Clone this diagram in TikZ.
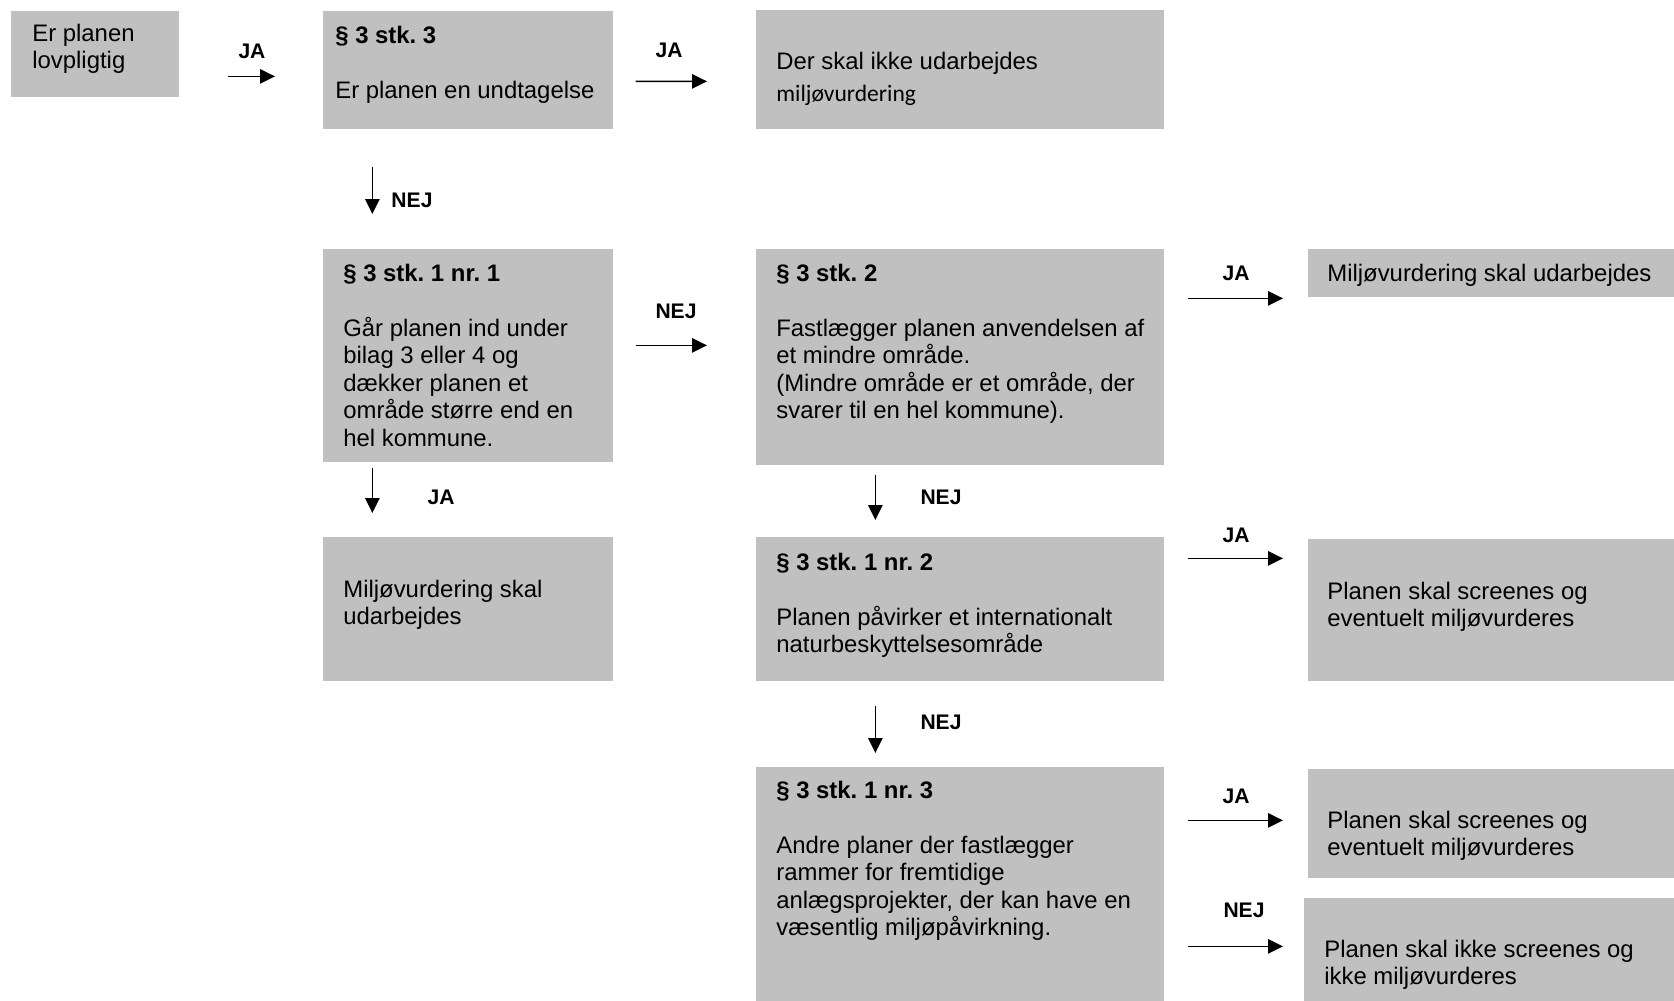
\documentclass[tikz,border=0pt]{standalone}
\usepackage{fontspec}
\setmainfont{Liberation Sans}
\newfontfamily\carl{Carlito}
\usepackage{tikz}
\usetikzlibrary{arrows.meta,calc}
\frenchspacing
\definecolor{boxgray}{RGB}{192,192,192}
\newlength{\pxl}
\setlength{\pxl}{0.02cm}
\newcommand{\bt}[5]{\parbox[c][#2\pxl][t]{#1\pxl}{\raggedright\leftskip=#3\pxl\relax\rule{0pt}{#4\pxl}#5}}
\newcommand{\gap}{15.65pt}

\begin{document}
\begin{tikzpicture}[x=0.02cm,y=-0.02cm,
  box/.style={fill=boxgray,inner sep=0pt,anchor=north west,font=\fontsize{13.6}{15.65}\selectfont},
  lbl/.style={inner sep=0pt,font=\bfseries\fontsize{12}{14}\selectfont},
  pil/.style={-{Triangle[length=0.3cm,width=0.29cm]},line width=0.75pt}]
\useasboundingbox (0,0) rectangle (1674,1001);
\node[box] (b1)  at (11,11)    {\bt{168}{86}{21}{30}{Er planen\\lovpligtig}};
\node[box] (b2)  at (323,11)   {\bt{290}{118}{12}{32}{\textbf{§ 3 stk. 3}\\[\gap]Er planen en undtagelse}};
\node[box] (b3)  at (756,10)   {\bt{408}{119}{20}{59}{Der skal ikke udarbejdes\\[2.6pt]{\carl\fontsize{13.4}{15}\selectfont miljøvurdering}}};
\node[box] (b4)  at (323,249)  {\bt{290}{213}{20}{32}{\textbf{§ 3 stk. 1 nr. 1}\\[\gap]Går planen ind under\\bilag 3 eller 4 og\\dækker planen et\\område større end en\\hel kommune.}};
\node[box] (b5)  at (756,249)  {\bt{408}{216}{20}{32}{\textbf{§ 3 stk. 2}\\[\gap]Fastlægger planen anvendelsen af\\et mindre område.\\(Mindre område er et område, der\\svarer til en hel kommune).}};
\node[box] (b6)  at (1308,249) {\bt{366}{48}{19}{32}{Miljøvurdering skal udarbejdes}};
\node[box] (b7)  at (323,537)  {\bt{290}{144}{20}{60}{Miljøvurdering skal\\udarbejdes}};
\node[box] (b8)  at (756,537)  {\bt{408}{144}{20}{33}{\textbf{§ 3 stk. 1 nr. 2}\\[\gap]Planen påvirker et internationalt\\naturbeskyttelsesområde}};
\node[box] (b9)  at (1308,539) {\bt{366}{142}{19}{60}{Planen skal screenes og\\eventuelt miljøvurderes}};
\node[box] (b10) at (756,767)  {\bt{408}{234}{20}{31}{\textbf{§ 3 stk. 1 nr. 3}\\[\gap]Andre planer der fastlægger\\rammer for fremtidige\\anlægsprojekter, der kan have en\\væsentlig miljøpåvirkning.}};
\node[box] (b11) at (1308,769) {\bt{366}{109}{19}{59}{Planen skal screenes og\\eventuelt miljøvurderes}};
\node[box] (b12) at (1304,898) {\bt{370}{103}{20}{59}{Planen skal ikke screenes og\\ikke miljøvurderes}};
%
\node[lbl] (l1)  at (252,51)   {JA};
\node[lbl] (l2)  at (669,50)   {JA};
\node[lbl] (l3)  at (412,200)  {NEJ};
\node[lbl] (l4)  at (676,311)  {NEJ};
\node[lbl] (l5)  at (1236,273) {JA};
\node[lbl] (l6)  at (441,497)  {JA};
\node[lbl] (l7)  at (941,497)  {NEJ};
\node[lbl] (l8)  at (1236,535) {JA};
\node[lbl] (l9)  at (941,722)  {NEJ};
\node[lbl] (l10) at (1236,796) {JA};
\node[lbl] (l11) at (1244,910) {NEJ};
%
\path[pil]
	($(b1.east)+(48,22)$)     edge ($(b2.west)+(-48,6)$)
	($(b2.east)+(22,11)$)     edge ($(b3.west)+(-49,11.5)$)
	($(b2.south)+(-96,37)$)   edge ($(b4.north)+(-96,-35)$)
	($(b4.east)+(22,-10.5)$)  edge ($(b5.west)+(-49,-12)$)
	($(b5.east)+(23,-59)$)    edge ($(b6.west)+(-25,25)$)
	($(b4.south)+(-96,5)$)    edge ($(b7.north)+(-96,-24)$)
	($(b5.south)+(-85,9)$)    edge ($(b8.north)+(-85,-17)$)
	($(b8.east)+(23,-51)$)    edge ($(b9.west)+(-25,-52)$)
	($(b8.south)+(-85,24)$)   edge ($(b10.north)+(-85,-14)$)
	($(b10.east)+(23,-64)$)   edge ($(b11.west)+(-25,-3.5)$)
	($(b10.east)+(23,62)$)    edge ($(b12.west)+(-21,-3.5)$)
; %-pile-%
\end{tikzpicture}
\end{document}
